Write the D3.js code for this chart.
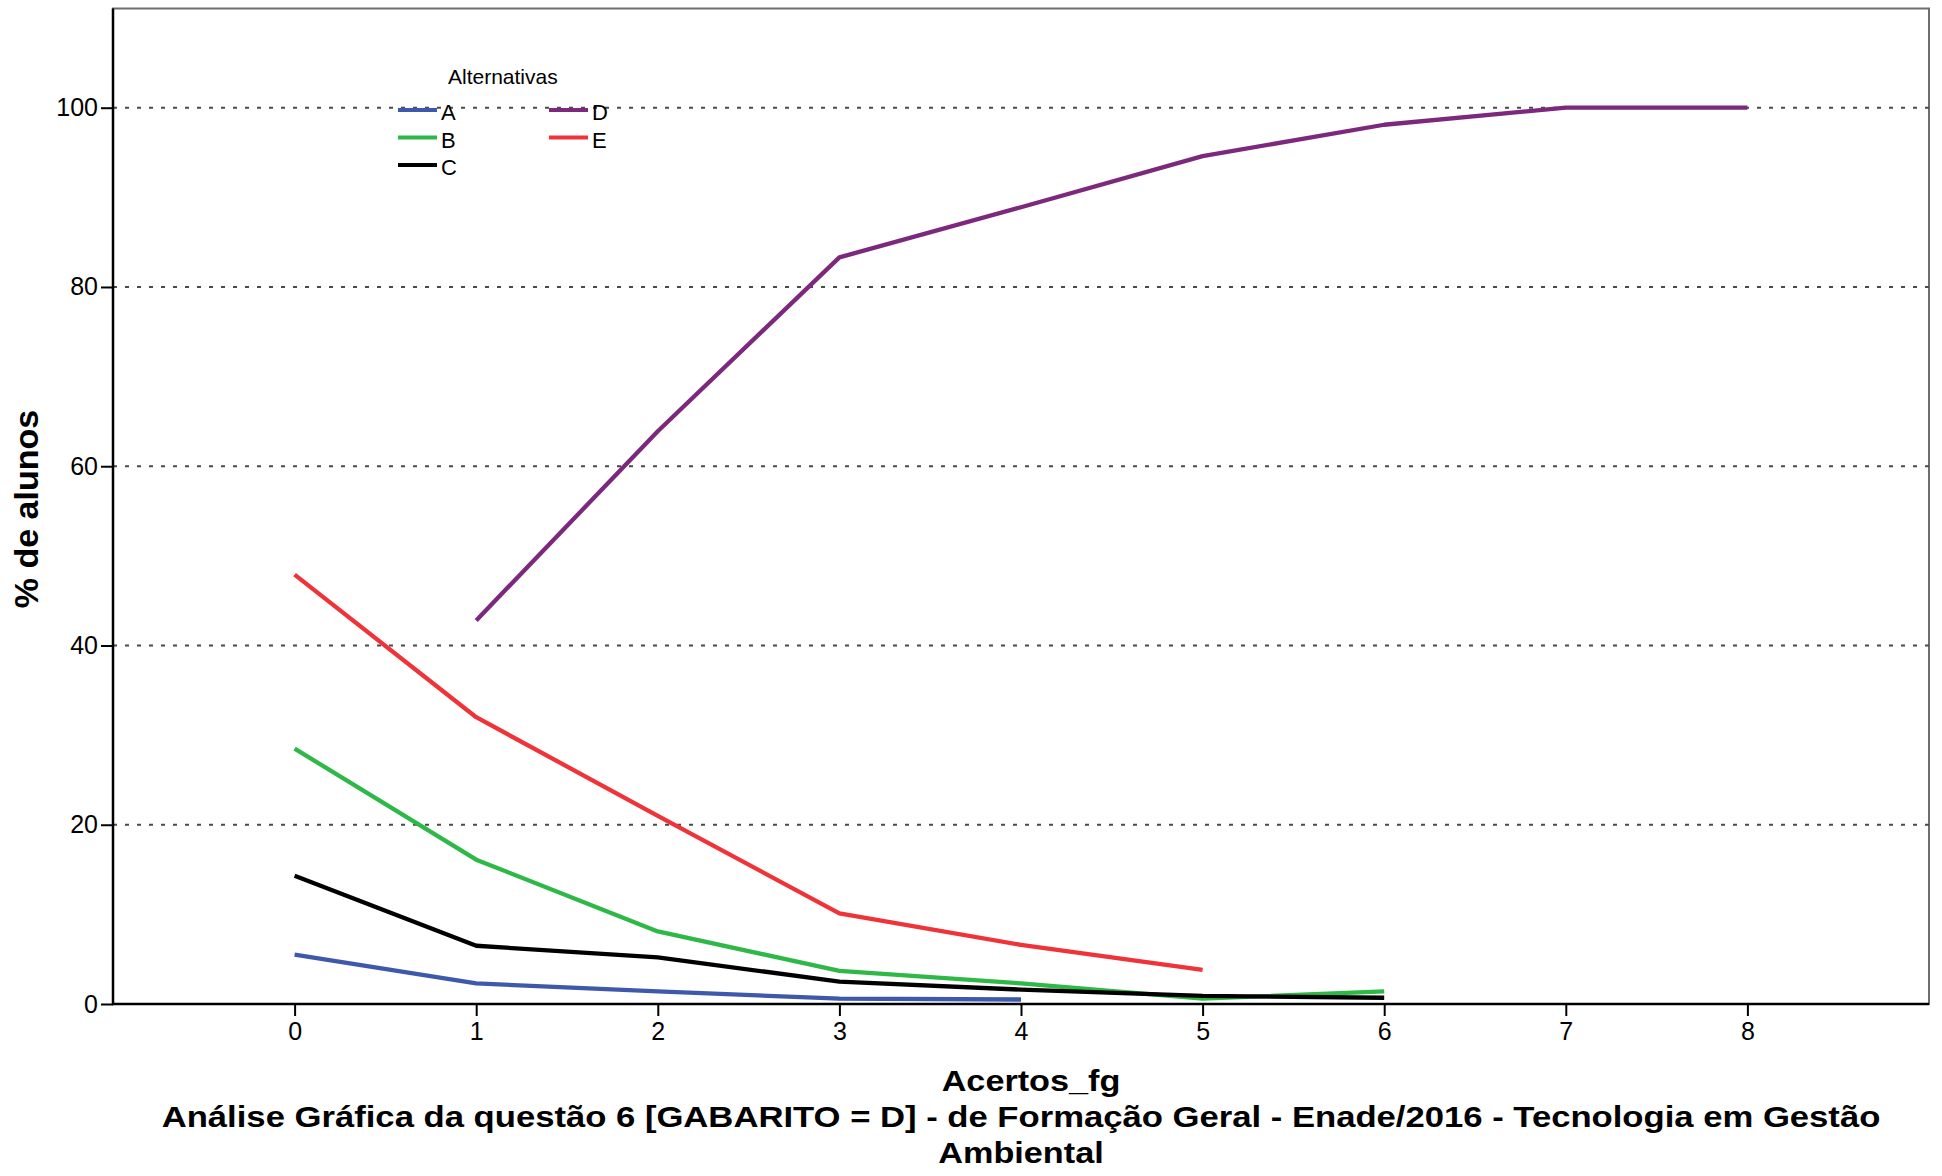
<!DOCTYPE html>
<html><head><meta charset="utf-8">
<script src="https://cdn.jsdelivr.net/npm/d3@7"></script>
<style>html,body{margin:0;padding:0;background:#fff;}svg{display:block;}</style>
</head><body>
<script>
const xValues = [0,1,2,3,4,5,6,7,8];
const seriesNames = ["A","B","C","D","E"];
const seriesA = [5.5, 2.3, 1.4, 0.6, 0.5, null, null, null, null];
const seriesB = [28.5, 16.1, 8.1, 3.7, 2.3, 0.6, 1.4, null, null];
const seriesC = [14.3, 6.5, 5.2, 2.5, 1.6, 0.9, 0.7, null, null];
const seriesD = [null, 42.8, 63.9, 83.3, 88.9, 94.6, 98.1, 100, 100];
const seriesE = [47.9, 32.0, 21.0, 10.1, 6.6, 3.8, null, null, null];
const seriesColors = ["#3E58AC", "#2EB848", "#000000", "#7C287D", "#EF3338"];
const yTicks = [0, 20, 40, 60, 80, 100];
const xTicks = [0,1,2,3,4,5,6,7,8];
const titleLines = ["Acertos_fg", "Análise Gráfica da questão 6 [GABARITO = D] - de Formação Geral - Enade/2016 - Tecnologia em Gestão", "Ambiental"];
const yLabel = "% de alunos";
const legendTitle = "Alternativas";

const W = 1942, H = 1176;
const svg = d3.select("body").append("svg").attr("width", W).attr("height", H);
const L = 113, R = 1929, T = 8.5, B = 1004;
const x = d3.scaleLinear().domain([-1, 9]).range([L, R]);
const y = d3.scaleLinear().domain([0, 111.07]).range([B, T]);

// border
svg.append("rect").attr("x", L).attr("y", T).attr("width", R - L).attr("height", B - T)
  .attr("fill", "none").attr("stroke", "#6e6e6e").attr("stroke-width", 2);

// grid
svg.append("g").selectAll("line").data(yTicks).join("line")
  .attr("x1", L).attr("x2", R).attr("y1", d => y(d)).attr("y2", d => y(d))
  .attr("stroke", "#4a4a4a").attr("stroke-width", 2).attr("stroke-dasharray", "4 8");

// series
const allSeries = [seriesA, seriesB, seriesC, seriesD, seriesE];
const line = d3.line().defined(d => d[1] != null).x(d => x(d[0])).y(d => y(d[1]));
allSeries.forEach((s, i) => {
  svg.append("path").datum(xValues.map((v, j) => [v, s[j]]))
    .attr("d", line).attr("fill", "none").attr("stroke", seriesColors[i])
    .attr("stroke-width", 4.3).attr("stroke-linejoin", "round");
});

// axes
const yAxis = svg.append("g").attr("transform", `translate(${L},0)`)
  .call(d3.axisLeft(y).tickValues(yTicks).tickSize(12).tickPadding(3).tickSizeOuter(0));
const xAxis = svg.append("g").attr("transform", `translate(0,${B})`)
  .call(d3.axisBottom(x).tickValues(xTicks).tickSize(12).tickPadding(6).tickSizeOuter(0));
[yAxis, xAxis].forEach(g => {
  g.select(".domain").remove();
  g.selectAll(".tick line").attr("stroke", "#000").attr("stroke-width", 2);
  g.selectAll(".tick text").attr("fill", "#000")
    .style("font-family", "'Liberation Sans Narrow', 'Arial Narrow', sans-serif").style("font-size", "25px");
});
svg.append("line").attr("x1", L).attr("x2", L).attr("y1", T).attr("y2", B + 1)
  .attr("stroke", "#000").attr("stroke-width", 2.5);
svg.append("line").attr("x1", L - 1).attr("x2", R).attr("y1", B).attr("y2", B)
  .attr("stroke", "#000").attr("stroke-width", 2.5);

// legend
const lg = svg.append("g").style("font-family", "'Liberation Sans', Arial, sans-serif");
lg.append("text").attr("x", 448).attr("y", 84).style("font-size", "21px").text(legendTitle);
const legPos = [[0,0],[0,1],[0,2],[1,0],[1,1]];
seriesNames.forEach((n, i) => {
  const cx = legPos[i][0] === 0 ? 398 : 549;
  const cy = 110 + legPos[i][1] * 27.5;
  lg.append("line").attr("x1", cx).attr("x2", cx + 39).attr("y1", cy).attr("y2", cy)
    .attr("stroke", seriesColors[i]).attr("stroke-width", 4);
  lg.append("text").attr("x", cx + 43).attr("y", cy + 10).style("font-size", "22px").text(n);
});

// y label
svg.append("text").attr("transform", "translate(38,509) rotate(-90)")
  .attr("text-anchor", "middle")
  .style("font-family", "'Liberation Sans', Arial, sans-serif").style("font-weight", "bold")
  .style("font-size", "34px").text(yLabel);

// bottom titles (horizontally stretched like reference)
const tpos = [[1031, 1091, 1.18], [1021, 1127, 1.195], [1021, 1163, 1.18]];
titleLines.forEach((t, i) => {
  svg.append("text")
    .attr("transform", `translate(${tpos[i][0]},${tpos[i][1]}) scale(${tpos[i][2]},1)`)
    .attr("text-anchor", "middle")
    .style("font-family", "'Liberation Sans', Arial, sans-serif").style("font-weight", "bold")
    .style("font-size", "29px").text(t);
});
</script>
</body></html>
